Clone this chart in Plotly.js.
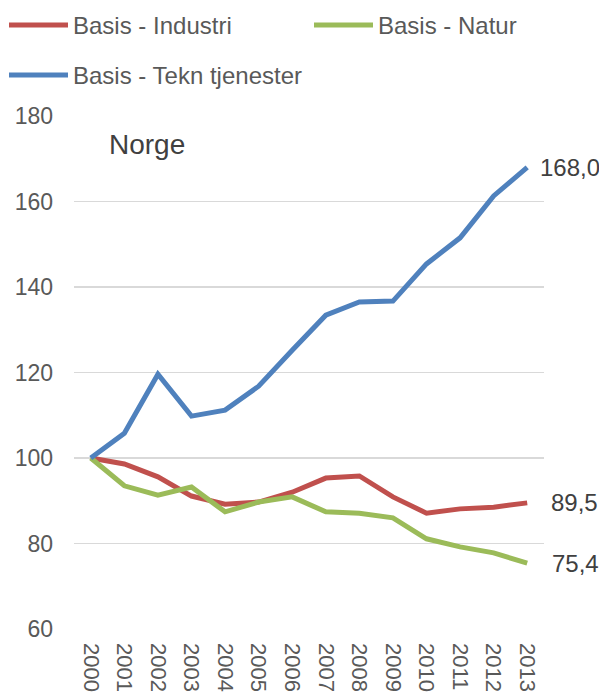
<!DOCTYPE html>
<html>
<head>
<meta charset="utf-8">
<script src="https://cdn.plot.ly/plotly-3.0.1.min.js"></script>
<style>html,body{margin:0;padding:0;background:#fff;}#chart{width:599px;height:695px;}</style>
</head>
<body>
<div id="chart"></div>
<script>
const years = ["2000","2001","2002","2003","2004","2005","2006","2007","2008","2009","2010","2011","2012","2013"];
const industri = [100, 98.6, 95.6, 91.1, 89.2, 89.7, 92.0, 95.3, 95.8, 90.9, 87.1, 88.1, 88.5, 89.5];
const natur    = [100, 93.5, 91.3, 93.2, 87.4, 89.7, 90.9, 87.4, 87.1, 86.0, 81.1, 79.2, 77.8, 75.4];
const tekn     = [100, 105.8, 119.6, 109.8, 111.2, 116.8, 125.2, 133.4, 136.5, 136.7, 145.4, 151.5, 161.3, 168.0];
const seriesNames = ["Basis - Industri", "Basis - Natur", "Basis - Tekn tjenester"];
const colors = ["#C0504D", "#9BBB59", "#4F81BD"];
const yTicks = [60, 80, 100, 120, 140, 160, 180];

const W = 599, H = 695;
const font = "Liberation Sans, Arial, sans-serif";
const allSeries = [industri, natur, tekn];
const legendIds = ["legend", "legend2", "legend3"];
const traces = allSeries.map((s, i) => ({
  x: years, y: s, type: "scatter", mode: "lines", name: seriesNames[i],
  line: {color: colors[i], width: 5},
  legend: legendIds[i],
  hoverinfo: "skip"
}));

const fmt = v => v.toFixed(1).replace(".", ",");
const shifts = [22, 23, 11];
const annotations = allSeries.map((s, i) => ({
  x: years.length - 1, y: s[s.length - 1], xref: "x", yref: "y",
  text: fmt(s[s.length - 1]), showarrow: false, xanchor: "left", yanchor: "middle",
  xshift: shifts[i], font: {family: font, size: 24, color: "#404040"}
}));
const plotL = 74, plotR = 544, plotT = 116, plotB = 629;
annotations.push({
  x: (107 - plotL) / (plotR - plotL), y: (plotB - 144) / (plotB - plotT),
  xref: "paper", yref: "paper", text: "Norge", showarrow: false,
  xanchor: "left", yanchor: "middle",
  font: {family: font, size: 28, color: "#404040"}
});

function leg(px, py) {
  return {
    orientation: "h", xref: "container", yref: "container",
    x: px / W, y: 1 - py / H, xanchor: "left", yanchor: "top",
    itemwidth: 59,
    font: {family: font, size: 24, color: "#595959"}, bgcolor: "rgba(0,0,0,0)"
  };
}

const layout = {
  width: W, height: H,
  margin: {l: plotL, r: W - plotR, t: plotT, b: H - plotB},
  paper_bgcolor: "#ffffff", plot_bgcolor: "#ffffff",
  font: {family: font, size: 24, color: "#595959"},
  showlegend: true,
  legend: leg(4, 3),
  legend2: leg(309, 3),
  legend3: leg(4, 53),
  xaxis: {
    type: "category", range: [-0.5, 13.5], tickangle: 90,
    showgrid: false, showline: false, zeroline: false,
    tickfont: {family: font, size: 22, color: "#595959"}, ticks: "", ticklabelstandoff: 13
  },
  yaxis: {
    range: [60, 180], tickvals: yTicks, showgrid: true, gridcolor: "#D9D9D9", gridwidth: 1.5,
    zeroline: false, showline: false, ticks: "", ticklabelstandoff: 20,
    tickfont: {family: font, size: 23, color: "#595959"}
  },
  annotations: annotations
};

Plotly.newPlot("chart", traces, layout, {displayModeBar: false, staticPlot: true});
</script>
</body>
</html>
